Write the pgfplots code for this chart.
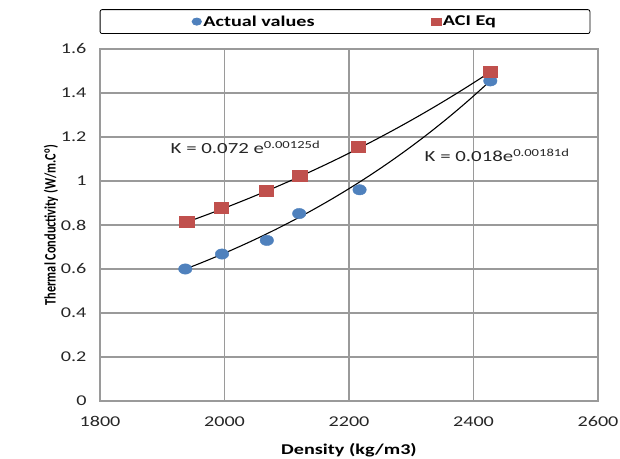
\documentclass[border=0pt]{standalone}
\usepackage{fontspec}
\usepackage{graphicx}
\setmainfont{Carlito}[FakeStretch=1.35]
\newfontfamily\ylfont{Carlito}
\usepackage{pgfplots}
\pgfplotsset{compat=1.18}
\definecolor{xlblue}{HTML}{4F81BD}
\definecolor{xlred}{HTML}{C0504D}
\definecolor{gridgray}{HTML}{9A9A9A}
\begin{document}
\begin{tikzpicture}
\begin{axis}[
  scale only axis,
  width=498bp, height=352bp,
  xmin=1800, xmax=2600, ymin=0, ymax=1.6,
  xtick={1800,2000,...,2600},
  ytick={0,0.2,...,1.6},
  /pgf/number format/assume math mode=true,
  x tick label style={/pgf/number format/1000 sep={}, font=\fontsize{15}{17}\selectfont, text=black!85, yshift=-12bp},
  y tick label style={/pgf/number format/fixed, /pgf/number format/precision=1, font=\fontsize{15}{17}\selectfont, text=black!85, xshift=-10bp},
  major tick length=0pt,
  grid=major,
  major grid style={gridgray, line width=1.2bp},
  axis line style={gridgray, line width=1.4bp},
  xlabel={\textbf{Density (kg/m3)}},
  ylabel={\scalebox{1}[1.3]{\ylfont\bfseries Thermal Conductivity (W/m.C\textsuperscript{o})}},
  xlabel style={font=\fontsize{15}{17}\selectfont, yshift=-10bp},
  ylabel style={font=\fontsize{12.3}{14}\selectfont, yshift=-4bp},
  legend columns=2,
  legend style={at={(0.492,1.0)}, anchor=south, yshift=15bp, draw=black, line width=0.8bp,
    rounded corners=2bp, font=\bfseries\fontsize{15}{17}\selectfont,
    inner xsep=92bp, inner ysep=4bp,
    /tikz/every even column/.append style={column sep=115bp}},
  legend image post style={mark size=3.6bp},
  legend cell align=left,
]
\addplot[only marks, mark=*, mark size=5.2bp, color=xlblue, mark options={draw=xlblue, fill=xlblue, xscale=1.3}]
  coordinates {(1937,0.600) (1996,0.668) (2068,0.730) (2120,0.852) (2217,0.960) (2427,1.455)};
\addlegendentry{Actual values}
\addplot[only marks, mark=square*, mark size=5.6bp, color=xlred, mark options={draw=xlred, fill=xlred, xscale=1.3}]
  coordinates {(1939,0.814) (1995,0.878) (2067,0.957) (2121,1.025) (2215,1.155) (2427,1.495)};
\addlegendentry{ACI Eq}
\addplot[black, line width=1.1bp, smooth, domain=1937:2427, samples=40, forget plot] {0.018*exp(0.00181*x)};
\addplot[black, line width=1.1bp, smooth, domain=1939:2427, samples=40, forget plot] {0.072*exp(0.00125*x)};
\node[anchor=west, font=\fontsize{15.5}{18}\selectfont, text=black!85] at (axis cs:1908,1.152) {K = 0.072 e\textsuperscript{0.00125d}};
\node[anchor=west, font=\fontsize{15.5}{18}\selectfont, text=black!85] at (axis cs:2316,1.118) {K = 0.018e\textsuperscript{0.00181d}};
\end{axis}
\pgfresetboundingbox
\useasboundingbox ([xshift=-100bp,yshift=-58bp]current axis.south west) rectangle ++(620bp,459bp);
\end{tikzpicture}
\end{document}
